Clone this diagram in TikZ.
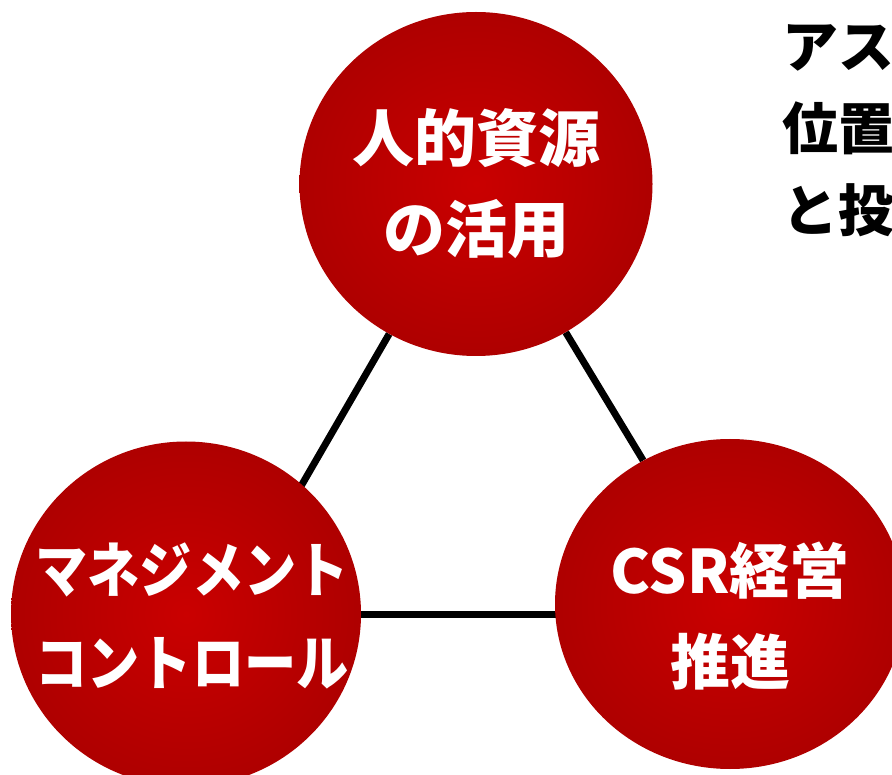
\documentclass[tikz,border=0pt]{standalone}
\usepackage{fontspec}
\newfontfamily\jp{Noto Sans CJK JP}
\usetikzlibrary{shapes.geometric,backgrounds}
\definecolor{ballin}{HTML}{CA0000}
\definecolor{ballout}{HTML}{A00000}
\pgfdeclareradialshading{redball}{\pgfpoint{0bp}{0bp}}{color(0bp)=(ballin); color(38bp)=(ballout); color(50bp)=(ballout)}
\tikzset{
  ball/.style={ellipse, shading=redball, draw=none, inner sep=0pt},
  conn/.style={line width=7pt, black},
  balltext/.style={text=white, align=center, font=\jp\bfseries},
}
\begin{document}
\begin{tikzpicture}[x=1pt,y=-1pt]
\useasboundingbox (0,0) rectangle (892,775);
\clip (0,0) rectangle (892,775);
% circles
\node[ball, minimum width=353pt, minimum height=344pt] (top) at (476,184) {};
\node[ball, minimum width=350pt, minimum height=345pt] (left) at (186,614) {};
\node[ball, minimum width=350pt, minimum height=330pt] (right) at (730,604) {};
\coordinate (lanchor) at (227,614);
% connectors
\begin{scope}[on background layer]
\draw[conn] (top) -- (lanchor);
\draw[conn] (top) -- (right);
\draw[conn] (left.east) -- (left.east -| right.center);
\end{scope}
% texts
\node[balltext, font=\jp\bfseries\fontsize{62}{91}\selectfont] (ttop) at (476,184) {人的資源\\の活用};
\node[balltext, font=\jp\bfseries\fontsize{60}{93}\selectfont, xscale=0.87] (tleft) at (192,616) {マネジメント\\コントロール};
\node[balltext, font=\jp\bfseries\fontsize{60}{91}\selectfont] (tright) at (730,616) {CSR経営\\推進};
\node[anchor=west, align=left, inner sep=0pt, font=\jp\bfseries\fontsize{56}{82}\selectfont] (side) at (782,131) {アス\\位置\\と投};
\end{tikzpicture}
\end{document}
